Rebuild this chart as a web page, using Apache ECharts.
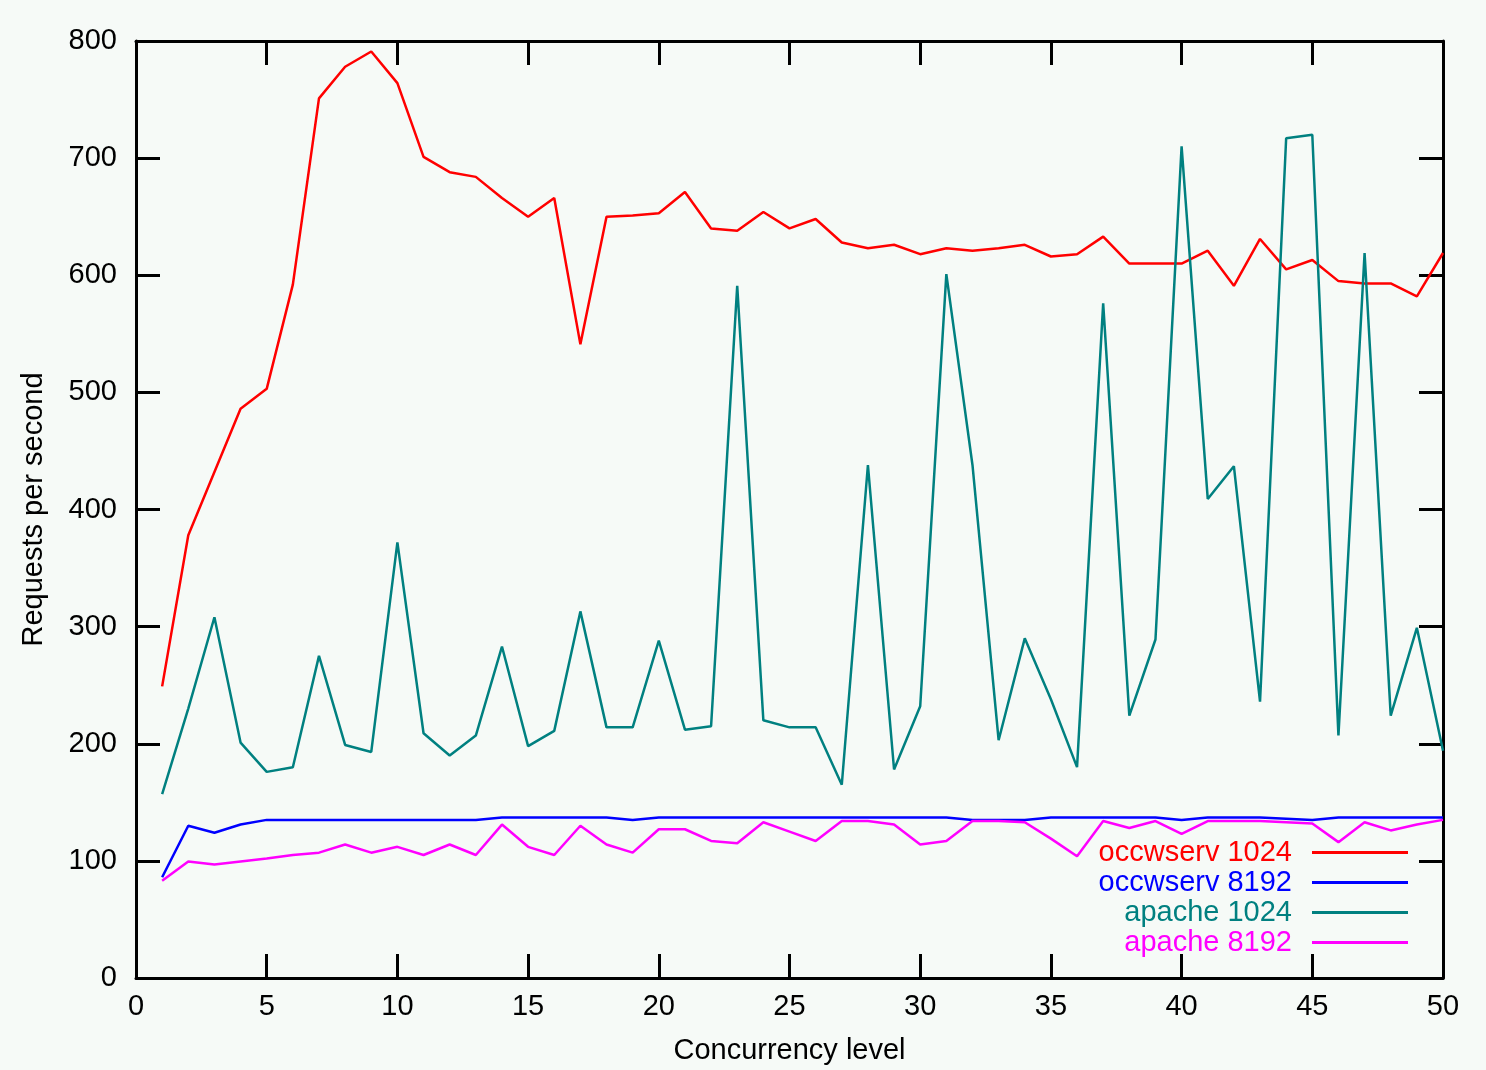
<!DOCTYPE html>
<html>
<head>
<meta charset="utf-8">
<script src="https://cdn.jsdelivr.net/npm/echarts@6/dist/echarts.min.js"></script>
<style>
html,body{margin:0;padding:0;background:#f6faf7;}
#c{width:1486px;height:1070px;}
</style>
</head>
<body>
<div id="c"></div>
<script>
// ---- data ----
const concurrency = [1,2,3,4,5,6,7,8,9,10,11,12,13,14,15,16,17,18,19,20,21,22,23,24,25,26,27,28,29,30,31,32,33,34,35,36,37,38,39,40,41,42,43,44,45,46,47,48,49,50];
const occwserv1024 = [249,378,432,486,503,592,751,778,791,764,701,688,684,666,650,666,541,650,651,653,671,640,638,654,640,648,628,623,626,618,623,621,623,626,616,618,633,610,610,610,621,591,631,605,613,595,593,593,582,619];
const occwserv8192 = [86,130,124,131,135,135,135,135,135,135,135,135,135,137,137,137,137,137,135,137,137,137,137,137,137,137,137,137,137,137,137,135,135,135,137,137,137,137,137,135,137,137,137,136,135,137,137,137,137,137];
const apache1024 = [157,230,308,201,176,180,275,199,193,372,209,190,207,283,198,211,313,214,214,288,212,215,591,220,214,214,165,438,178,232,601,438,203,290,238,180,576,224,289,710,409,437,236,717,720,207,619,224,299,194];
const apache8192 = [83,99.5,97,99.5,102,105,107,114,107,112,105,114,105,131,112,105,130,114,107,127,127,117,115,133,125,117,134,134,131,114,117,134,134,133,119,104,134,128,134,123,134,134,134,133,132,116,133,126,131,135];
const seriesNames = ['occwserv 1024','occwserv 8192','apache 1024','apache 8192'];
const seriesColors = ['#ff0000','#0000ff','#008080','#ff00ff'];
const xTicks = [0,5,10,15,20,25,30,35,40,45,50];
const yTicks = [0,100,200,300,400,500,600,700,800];
const xTitle = 'Concurrency level';
const yTitle = 'Requests per second';

// ---- chart ----
const FONT = '"Liberation Sans", Arial, sans-serif';
const allValues = [occwserv1024, occwserv8192, apache1024, apache8192];
const pair = v => concurrency.map((c, i) => [c, v[i]]);

const axisLine = {show:true, onZero:false, lineStyle:{color:'#000', width:3}};
const axisTick = {show:true, inside:true, length:24, lineStyle:{color:'#000', width:3}};
const lbl = {color:'#000', fontSize:29, fontFamily:FONT};

const xBase = {type:'value', min:xTicks[0], max:xTicks[xTicks.length-1], interval:xTicks[1]-xTicks[0],
  axisLine, axisTick, splitLine:{show:false}};
const yBase = {type:'value', min:yTicks[0], max:yTicks[yTicks.length-1], interval:yTicks[1]-yTicks[0],
  axisLine, axisTick, splitLine:{show:false}};

const option = {
  animation:false,
  backgroundColor:'#f6faf7',
  grid:{left:136, top:41, width:1307, height:938},
  legend:{
    orient:'vertical', align:'right', right:78, top:838, padding:0,
    itemWidth:96, itemHeight:3, itemGap:1, icon:'rect',
    textStyle:{fontSize:29, fontFamily:FONT, lineHeight:29, padding:[0,15,0,0]},
    data: seriesNames.map((n,i)=>({name:n, textStyle:{color:seriesColors[i]}}))
  },
  xAxis:[
    Object.assign({}, xBase, {position:'bottom', axisLabel:Object.assign({margin:14}, lbl),
      name:xTitle, nameLocation:'middle', nameGap:58, nameTextStyle:{color:'#000', fontSize:29, fontFamily:FONT}}),
    Object.assign({}, xBase, {position:'top', axisLabel:{show:false}})
  ],
  yAxis:[
    Object.assign({}, yBase, {position:'left', axisLabel:Object.assign({margin:19}, lbl),
      name:yTitle, nameLocation:'middle', nameGap:88, nameRotate:90, nameTextStyle:{color:'#000', fontSize:29, fontFamily:FONT}}),
    Object.assign({}, yBase, {position:'right', axisLabel:{show:false}})
  ],
  series: seriesNames.map((n,i)=>({
    name:n, type:'line', xAxisIndex:0, yAxisIndex:0,
    data: pair(allValues[i]),
    symbol:'none', showSymbol:false,
    lineStyle:{color:seriesColors[i], width:2.5},
    itemStyle:{color:seriesColors[i]}
  }))
};

const chart = echarts.init(document.getElementById('c'), null, {renderer:'canvas'});
chart.setOption(option);
</script>
</body>
</html>
